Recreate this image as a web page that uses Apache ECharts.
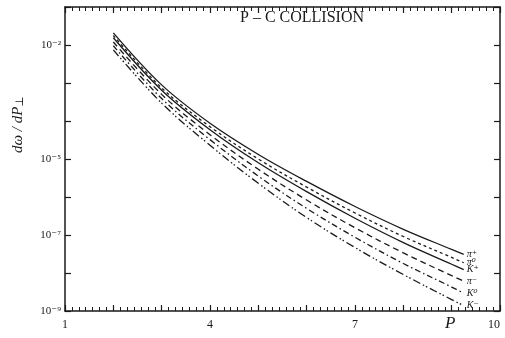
<!DOCTYPE html>
<html>
<head>
<meta charset="utf-8">
<script src="https://cdn.jsdelivr.net/npm/echarts@6/dist/echarts.min.js"></script>
<style>
  html, body { margin: 0; padding: 0; background: #fff; }
  #chart { width: 505px; height: 338px; }
</style>
</head>
<body>
<div id="chart"></div>
<script>
// transverse momentum P (x axis)
const pValues = [2, 3, 4, 5, 6, 7, 8, 9, 9.25];

// log10(dσ/dP⊥), one array per particle
const piPlus  = [-1.68, -3.05, -4.06, -4.88, -5.59, -6.25, -6.85, -7.38, -7.51];
const piZero  = [-1.75, -3.13, -4.15, -5.00, -5.74, -6.42, -7.04, -7.59, -7.73];
const kPlus   = [-1.81, -3.19, -4.23, -5.10, -5.86, -6.56, -7.20, -7.77, -7.91];
const piMinus = [-1.92, -3.30, -4.36, -5.27, -6.08, -6.81, -7.47, -8.07, -8.21];
const kZero   = [-2.02, -3.41, -4.49, -5.45, -6.30, -7.06, -7.75, -8.37, -8.53];
const kMinus  = [-2.13, -3.53, -4.64, -5.64, -6.54, -7.33, -8.04, -8.70, -8.86];

const xTickLabels = [1, 4, 7, 10];
const yTickLabels = { '-2': '10⁻²', '-5': '10⁻⁵', '-7': '10⁻⁷', '-9': '10⁻⁹' };

const curves = [
  { name: 'π⁺', data: piPlus,  type: 'solid' },
  { name: 'π⁰', data: piZero,  type: [3, 3] },
  { name: 'K⁺', data: kPlus,   type: 'solid' },
  { name: 'π⁻', data: piMinus, type: [6, 4] },
  { name: 'K⁰', data: kZero,   type: [6, 3, 1.5, 3] },
  { name: 'K⁻', data: kMinus,  type: [8, 3, 1.5, 2, 1.5, 3] },
];

const SERIF = '"Liberation Serif", "DejaVu Serif", serif';
const INK = '#1a1a1a';

const chart = echarts.init(document.getElementById('chart'));

const xAxisBase = {
  type: 'value',
  min: 1,
  max: 10,
  interval: 1,
  axisLine: { show: true, onZero: false, lineStyle: { color: INK, width: 1.5 } },
  axisTick: { show: true, inside: true, length: 6, lineStyle: { color: INK, width: 1.2 } },
  minorTick: { show: true, splitNumber: 7, length: 4, lineStyle: { color: INK, width: 1 } },
  splitLine: { show: false },
};

const yAxisBase = {
  type: 'value',
  min: -9,
  max: -1,
  interval: 1,
  axisLine: { show: true, onZero: false, lineStyle: { color: INK, width: 1.5 } },
  axisTick: { show: true, inside: true, length: 6, lineStyle: { color: INK, width: 1.2 } },
  splitLine: { show: false },
};

const option = {
  backgroundColor: '#fff',
  animation: false,
  grid: { left: 65, right: 5, top: 7, bottom: 27, containLabel: false, outerBoundsMode: 'none' },
  xAxis: [
    {
      ...xAxisBase,
      position: 'bottom',
      axisLabel: {
        color: INK,
        fontFamily: SERIF,
        fontSize: 12,
        margin: 8,
        alignMaxLabel: 'right',
        formatter: v => (xTickLabels.includes(v) ? String(v) : ''),
      },
    },
    { ...xAxisBase, position: 'top', axisLabel: { show: false } },
  ],
  yAxis: [
    {
      ...yAxisBase,
      position: 'left',
      axisLabel: {
        color: INK,
        fontFamily: SERIF,
        fontSize: 11,
        margin: 4,
        formatter: v => yTickLabels[String(v)] || '',
      },
    },
    { ...yAxisBase, position: 'right', axisLabel: { show: false } },
  ],
  series: curves.map(c => ({
    name: c.name,
    type: 'line',
    smooth: 0.35,
    showSymbol: false,
    data: pValues.map((p, i) => [p, c.data[i]]),
    lineStyle: { color: INK, width: 1.3, type: c.type },
    endLabel: {
      show: true,
      formatter: c.name,
      color: INK,
      fontFamily: SERIF,
      fontStyle: 'italic',
      fontSize: 10,
      distance: 3,
    },
  })),
  graphic: [
    {
      type: 'text',
      left: 240,
      top: 10,
      style: { text: 'P – C COLLISION', font: '16px ' + SERIF, fill: INK },
    },
    {
      type: 'text',
      x: 11,
      y: 153,
      rotation: Math.PI / 2,
      style: {
        text: '{i|dω / dP}{s|⊥}',
        rich: {
          i: { font: 'italic 15px ' + SERIF, fill: INK },
          s: { font: '11px ' + SERIF, fill: INK, verticalAlign: 'bottom' },
        },
      },
    },
    {
      type: 'text',
      left: 445,
      top: 315,
      style: { text: 'P', font: 'italic 17px ' + SERIF, fill: INK },
    },
  ],
};

chart.setOption(option);
</script>
</body>
</html>
